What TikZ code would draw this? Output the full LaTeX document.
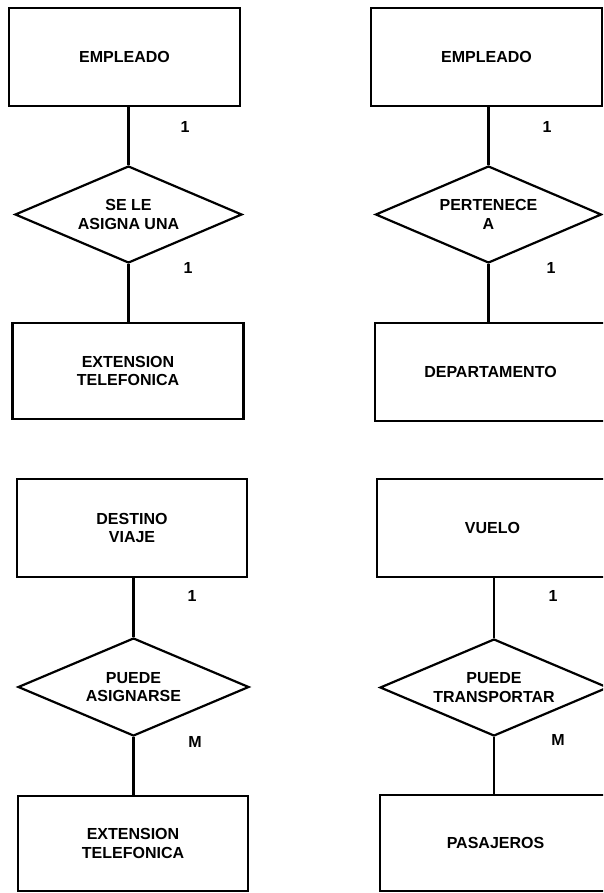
\documentclass[tikz,border=0pt]{standalone}
\usepackage{fontspec}
\setmainfont{Liberation Sans}
\usetikzlibrary{shapes.geometric}
\tikzset{
  ent/.style={draw, line width=2.2pt, rectangle, inner sep=0pt, align=center, minimum width=231pt, minimum height=98pt},
  rel/.style={draw, line width=2.2pt, diamond, aspect=2.3, inner sep=0pt, align=center, minimum width=227pt, minimum height=97pt},
  card/.style={inner sep=0pt},
  link/.style={line width=2.2pt},
  every node/.style={font=\fontsize{16}{18.5}\selectfont\bfseries}
}
\begin{document}
\begin{tikzpicture}[x=1pt,y=-1pt]
\clip (0,0) rectangle (603,893);
\fill[white] (0,0) rectangle (603,893);
% top left
\node[ent] (e1) at (124.5,57) {EMPLEADO};
\node[rel] (r1) at (128.5,214.5) {SE LE\\ASIGNA UNA};
\node[ent, minimum height=96pt] (e2) at (128,371) {EXTENSION\\TELEFONICA};
\draw[link] (e1.south -| r1.north) -- (r1.north);
\draw[link] (r1.south) -- (r1.south |- e2.north);
\node[card] (c1) at (185,127) {1};
\node[card] (c2) at (188,268) {1};
% top right
\node[ent] (e3) at (486.5,57) {EMPLEADO};
\node[rel, minimum width=226pt] (r2) at (488.5,214.5) {PERTENECE\\A};
\node[ent] (e4) at (490.5,372) {DEPARTAMENTO};
\draw[link] (e3.south -| r2.north) -- (r2.north);
\draw[link] (r2.south) -- (r2.south |- e4.north);
\node[card] (c3) at (547,127) {1};
\node[card] (c4) at (551,268) {1};
% bottom left
\node[ent, minimum width=230pt] (e5) at (132,528) {DESTINO\\VIAJE};
\node[rel, minimum width=231pt, minimum height=98pt] (r3) at (133.5,687) {PUEDE\\ASIGNARSE};
\node[ent, minimum width=230pt, minimum height=95pt] (e6) at (133,843.5) {EXTENSION\\TELEFONICA};
\draw[link] (e5.south -| r3.north) -- (r3.north);
\draw[link] (r3.south) -- (r3.south |- e6.north);
\node[card] (c5) at (192,596) {1};
\node[card] (c6) at (195,742) {M};
% bottom right
\node[ent] (e7) at (492.5,528) {VUELO};
\node[rel, minimum width=228pt] (r4) at (494,687.5) {PUEDE\\TRANSPORTAR};
\node[ent, minimum height=96pt] (e8) at (495.5,843) {PASAJEROS};
\draw[link] (e7.south -| r4.north) -- (r4.north);
\draw[link] (r4.south) -- (r4.south |- e8.north);
\node[card] (c7) at (553,596) {1};
\node[card] (c8) at (558,740) {M};
\end{tikzpicture}
\end{document}
